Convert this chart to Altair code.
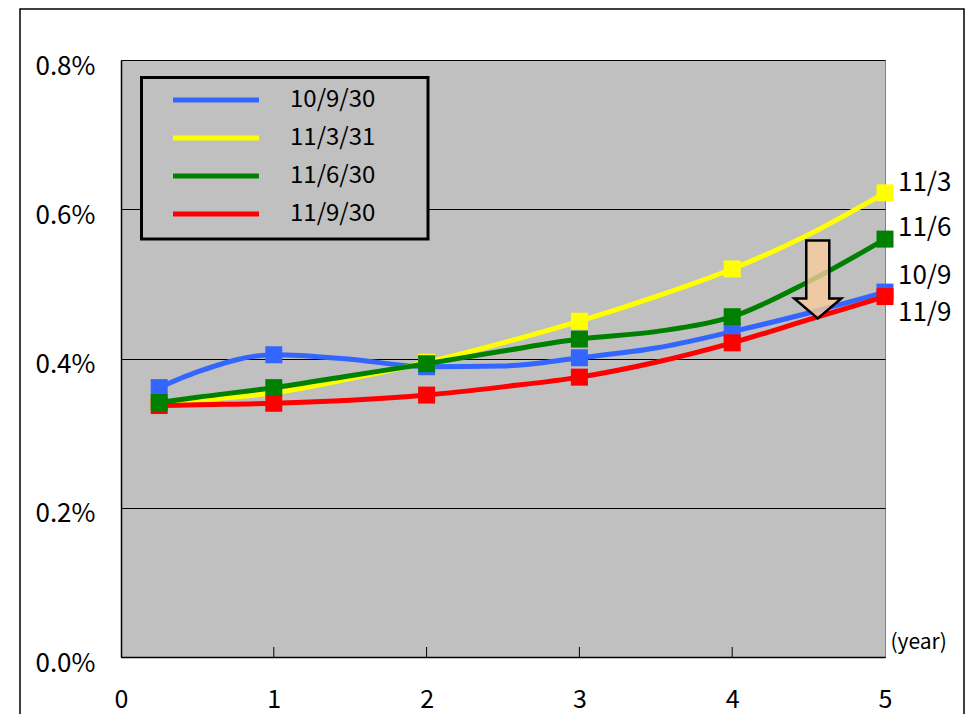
import altair as alt
import pandas as pd

FONT = "Noto Sans CJK JP"

# ---- data ----
years = [0.25, 0.5, 1, 1.5, 2, 2.5, 3, 3.5, 4, 4.5, 5]
marker_years = [0.25, 1, 2, 3, 4, 5]
series_names = ["10/9/30", "11/3/31", "11/6/30", "11/9/30"]
series_colors = ["#3366ff", "#ffff00", "#008000", "#ff0000"]

y_100930 = [0.361, 0.382, 0.405, 0.399, 0.389, 0.390, 0.401, 0.414, 0.436, 0.461, 0.489]
y_110331 = [0.339, 0.344, 0.354, 0.373, 0.395, 0.421, 0.450, 0.483, 0.520, 0.566, 0.622]
y_110630 = [0.341, 0.348, 0.361, 0.377, 0.393, 0.410, 0.426, 0.436, 0.456, 0.503, 0.560]
y_110930 = [0.337, 0.338, 0.340, 0.344, 0.351, 0.362, 0.375, 0.395, 0.421, 0.452, 0.483]

end_labels = ["10/9", "11/3", "11/6", "11/9"]
arrow_x = [4.56]
arrow_y = [0.506]
tick_years = [1, 2, 3, 4]
y_ticks = [0, 0.2, 0.4, 0.6, 0.8]
x_ticks = [0, 1, 2, 3, 4, 5]

# ---- tables ----
all_vals = [y_100930, y_110331, y_110630, y_110930]
rows = []
for name, vals in zip(series_names, all_vals):
    for yr, v in zip(years, vals):
        rows.append({"series": name, "year": yr, "value": v, "marker": yr in marker_years})
df = pd.DataFrame(rows)
end_df = pd.DataFrame({"series": series_names, "label": end_labels,
                       "year": [years[-1]] * 4, "value": [v[-1] for v in all_vals]})
arrow_df = pd.DataFrame({"year": arrow_x, "value": arrow_y})
tick_df = pd.DataFrame({"year": tick_years})

W, H = 764, 597

x_scale = alt.Scale(domain=[0, 5], nice=False, zero=False)
y_scale = alt.Scale(domain=[0, 0.8], nice=False)
color_scale = alt.Scale(domain=series_names, range=series_colors)

x_axis = alt.Axis(values=x_ticks, format="d", grid=False, ticks=False, domainColor="black",
                  domainWidth=1.5, labelFontSize=25, labelFont=FONT, labelColor="black",
                  labelPadding=30, labelFlush=False, labelOverlap=False,
                  title="(year)", titleX=769, titleY=-15, titleAlign="left",
                  titleBaseline="middle", titleFontSize=21, titleFontWeight="normal",
                  titleFont=FONT, titleColor="black")
y_axis = alt.Axis(values=y_ticks, labelExpr="format(datum.value, '.1f') + '%'",
                  grid=True, gridColor="black", gridWidth=1, gridOpacity=1, ticks=False,
                  domainColor="black", domainWidth=1.5, labelFontSize=26, labelFont=FONT,
                  labelColor="black", labelPadding=26, labelOffset=6, labelFlush=False,
                  labelOverlap=False, title=None)

legend = alt.Legend(title=None, orient="none", legendX=20, legendY=16,
                    symbolType="M0.889,0H10.444", symbolSize=324, symbolStrokeWidth=5,
                    symbolOpacity=1, labelFont=FONT, labelFontSize=24, labelColor="black",
                    labelOffset=113, rowPadding=14, padding=12)

X = alt.X("year:Q", scale=x_scale, axis=x_axis)
Y = alt.Y("value:Q", scale=y_scale, axis=y_axis)
C = alt.Color("series:N", scale=color_scale, legend=legend)

one_row = alt.Data(values=[{}])
frame = alt.Chart(one_row).mark_rect(
    fillOpacity=0, stroke="black", strokeWidth=1.5
).encode(x=alt.value(-101), x2=alt.value(843), y=alt.value(-51), y2=alt.value(700))

# legend box drawn behind the legend entries
legend_box = alt.Chart(one_row).mark_rect(
    fill="#c0c0c0", stroke="black", strokeWidth=3
).encode(x=alt.value(20.5), x2=alt.value(307), y=alt.value(17.5), y2=alt.value(179))

layers = [frame, legend_box]
for idx in [0, 1, 3, 2]:
    name = series_names[idx]
    base = alt.Chart(df).transform_filter(alt.datum.series == name)
    layers.append(base.mark_line(strokeWidth=5, interpolate="monotone").encode(x=X, y=Y, color=C))
    layers.append(base.transform_filter(alt.datum.marker).mark_point(
        shape="square", filled=True, size=289, opacity=1).encode(x=X, y=Y, color=C))

arrow = alt.Chart(arrow_df).mark_point(
    shape="M-0.295,-1L0.295,-1L0.295,0.487L0.603,0.487L0,1L-0.603,0.487L-0.295,0.487Z",
    size=6084, filled=True, fill="#f8cc9c", fillOpacity=0.8, stroke="black",
    strokeWidth=2.5, opacity=1
).encode(x=X, y=Y)
layers.append(arrow)

ticks = alt.Chart(tick_df).mark_rule(color="black", strokeWidth=1).encode(
    x=X, y=alt.value(H - 10), y2=alt.value(H))
layers.append(ticks)

label_dy = {"10/9": -16, "11/3": -10, "11/6": -11, "11/9": 16}
for lab in end_labels:
    layers.append(alt.Chart(end_df).transform_filter(alt.datum.label == lab).mark_text(
        align="left", baseline="middle", dx=13, dy=label_dy[lab], fontSize=26,
        font=FONT, color="black").encode(x=X, y=Y, text="label:N"))

chart = alt.layer(*layers).properties(
    width=W, height=H,
    autosize=alt.AutoSizeParams(type="none"),
    padding={"left": 113, "top": 52, "right": 80, "bottom": 57},
    background="white",
).configure_view(fill="#c0c0c0", stroke="#808080", strokeWidth=1)

chart.save("out.html", embed_options={"renderer": "svg", "actions": False})
